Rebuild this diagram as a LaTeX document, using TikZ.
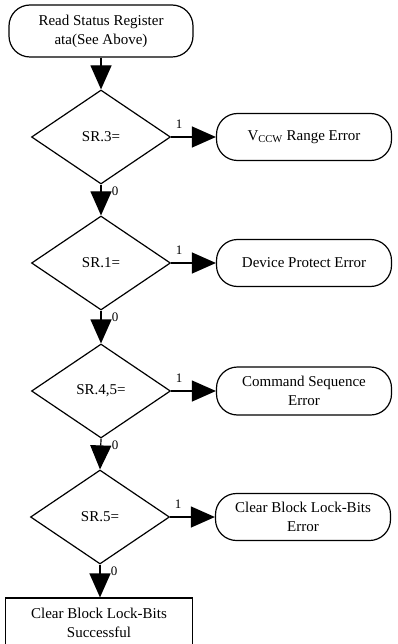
\documentclass[tikz,border=0pt]{standalone}
\usepackage{fontspec}
\setmainfont{Liberation Serif}
\usetikzlibrary{shapes.geometric,arrows.meta}
\begin{document}
\begin{tikzpicture}[x=1pt,y=-1pt,
  every node/.style={font=\fontsize{15}{19}\selectfont, align=center, inner sep=0pt},
  term/.style={draw, line width=1.2pt, rounded corners=21pt, minimum width=#1, minimum height=47pt},
  term/.default=175pt,
  dec/.style={draw, line width=1.2pt, diamond, minimum width=139pt, minimum height=94pt},
  proc/.style={draw, line width=1.2pt, minimum width=187pt, minimum height=50pt},
  arr/.style={line width=1.2pt, -{Triangle[width=21pt,length=24pt]}},
  lbl/.style={font=\fontsize{13}{15}\selectfont}]
\useasboundingbox (0,0) rectangle (397,644);
\node[term=184pt, minimum height=52pt] (start) at (101,31) {Read Status Register\\ata(See Above)};
\node[dec] (d1) at (101,137) {SR.3=};
\node[dec] (d2) at (101,263) {SR.1=};
\node[dec] (d3) at (101,391) {SR.4,5=};
\node[dec] (d4) at (100,517) {SR.5=};
\node[term] (e1) at (304,137) {V\textsubscript{CCW} Range Error};
\node[term] (e2) at (304,263) {Device Protect Error};
\node[term, minimum height=48pt] (e3) at (304,391) {Command Sequence\\Error};
\node[term] (e4) at (303,517) {Clear Block Lock-Bits\\Error};
\node[proc] (fin) at (99,623) {Clear Block Lock-Bits\\Successful};
\draw[arr] (start) -- (d1.north);
\draw[arr] (d1.south) -- (d2.north);
\draw[arr] (d2.south) -- (d3.north);
\draw[arr] (d3.south) -- (d4.north);
\draw[arr] (d4.south) -- (d4.south |- fin.north);
\draw[arr] (d1.east) -- (e1.west);
\draw[arr] (d2.east) -- (e2.west);
\draw[arr] (d3.east) -- (e3.west);
\draw[arr] (d4.east) -- (e4.west);
\foreach \d in {d1,d2,d3,d4}{
  \node[lbl] (\d one) at ([shift={(8,-13)}]\d.east) {1};
  \node[lbl] (\d zero) at ([shift={(14,7)}]\d.south) {0};
}
\end{tikzpicture}
\end{document}
